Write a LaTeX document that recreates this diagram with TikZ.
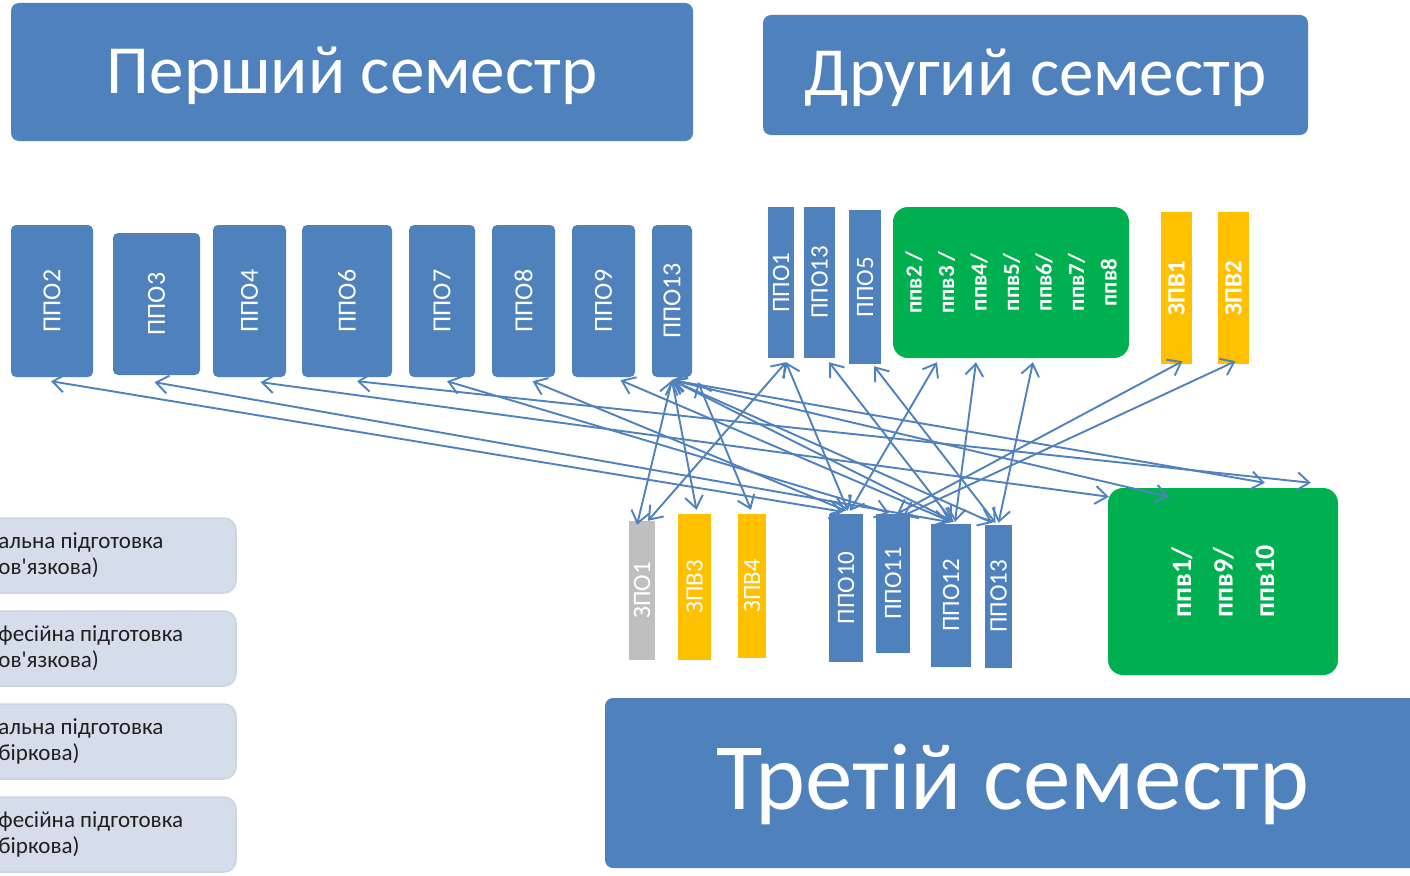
\documentclass[tikz,border=0pt]{standalone}
\usepackage{fontspec}
\setmainfont{Carlito}
\usetikzlibrary{arrows.meta,calc}
\definecolor{blu}{HTML}{4F81BD}
\definecolor{grn}{HTML}{00B050}
\definecolor{ylw}{HTML}{FFC000}
\definecolor{gry}{HTML}{BFBFBF}
\definecolor{lgfill}{HTML}{D5DCEA}
\definecolor{lgline}{HTML}{CBD3E4}
\definecolor{lgtext}{HTML}{1F1F1F}
\begin{document}
\begin{tikzpicture}[x=1pt,y=-1pt,
  titlebox/.style={fill=blu, rounded corners=8pt, text=white, inner sep=0pt, text depth=0pt},
  rbar/.style={fill=blu, rounded corners=5pt, inner sep=0pt, text=white, font=\fontsize{26}{30}\selectfont},
  sbar/.style={fill=blu, inner sep=0pt, text=white, font=\fontsize{25}{30}\selectfont},
  ybar/.style={sbar, fill=ylw},
  gbar/.style={sbar, fill=gry},
  gbox/.style={fill=grn, rounded corners=15pt, inner sep=0pt},
  legendbox/.style={fill=lgfill, draw=lgline, line width=1.5pt, rounded corners=12pt, inner sep=0pt, minimum width=266pt, minimum height=75pt},
  lgtxt/.style={anchor=west, align=left, text=lgtext, inner sep=0pt, font=\fontsize{23}{26}\selectfont},
  conn/.style={draw=blu, line width=1.9pt, {Straight Barb[length=12pt,width=18pt]}-{Straight Barb[length=12pt,width=18pt]}}
]
\useasboundingbox (0,0) rectangle (1410,875);

% titles
\node[titlebox, minimum width=682pt, minimum height=138pt, text height=42pt, font=\fontsize{69}{75}\selectfont] (h1) at (352,72) {Перший семестр};
\node[titlebox, minimum width=545pt, minimum height=120pt, text height=40pt, font=\fontsize{69}{75}\selectfont] (h2) at (1035.5,75) {Другий семестр};
\node[titlebox, minimum width=815pt, minimum height=170pt, text height=53pt, font=\fontsize{95}{100}\selectfont] (h3) at (1012.5,783) {Третій семестр};

% first semester
\node[rbar, minimum width=82pt, minimum height=152pt] (t2) at (52,301) {\rotatebox{90}{ППО2}};
\node[rbar, minimum width=87pt, minimum height=142pt] (t3) at (156.5,304) {\rotatebox{90}{ППО3}};
\node[rbar, minimum width=73pt, minimum height=152pt] (t4) at (249.5,301) {\rotatebox{90}{ППО4}};
\node[rbar, minimum width=90pt, minimum height=152pt] (t6) at (347,301) {\rotatebox{90}{ППО6}};
\node[rbar, minimum width=66pt, minimum height=152pt] (t7) at (442,301) {\rotatebox{90}{ППО7}};
\node[rbar, minimum width=63pt, minimum height=152pt] (t8) at (523.5,301) {\rotatebox{90}{ППО8}};
\node[rbar, minimum width=63pt, minimum height=152pt] (t9) at (603.5,301) {\rotatebox{90}{ППО9}};
\node[rbar, minimum width=40pt, minimum height=152pt] (t13) at (672,301) {\rotatebox{90}{ППО13}};

% second semester
\node[sbar, minimum width=26pt, minimum height=151pt] (s1) at (781,282.5) {\rotatebox{90}{ППО1}};
\node[sbar, minimum width=31pt, minimum height=151pt] (s13) at (819.5,282.5) {\rotatebox{90}{ППО13}};
\node[sbar, minimum width=32pt, minimum height=154pt] (s5) at (865,287) {\rotatebox{90}{ППО5}};
\node[gbox, minimum width=236pt, minimum height=151pt] (sg) at (1011,282.5) {};
\node[rotate=90, align=center, text=white, inner sep=0pt, font=\bfseries\fontsize{23}{32.5}\selectfont] (sgt) at (sg.center) {ппв2 /\\ппв3 /\\ппв4/\\ппв5/\\ппв6/\\ппв7/\\ппв8};
\node[ybar, minimum width=31pt, minimum height=152pt, font=\bfseries\fontsize{25}{30}\selectfont] (sz1) at (1176.5,288) {\rotatebox{90}{ЗПВ1}};
\node[ybar, minimum width=31pt, minimum height=152pt, font=\bfseries\fontsize{25}{30}\selectfont] (sz2) at (1233.5,288) {\rotatebox{90}{ЗПВ2}};

% third semester
\node[gbar, minimum width=26pt, minimum height=139pt] (b1) at (642,590.5) {\rotatebox{90}{ЗПО1}};
\node[ybar, minimum width=33pt, minimum height=146pt] (b3) at (694.5,587) {\rotatebox{90}{ЗПВ3}};
\node[ybar, minimum width=28pt, minimum height=144pt] (b4) at (752,586) {\rotatebox{90}{ЗПВ4}};
\node[sbar, minimum width=34pt, minimum height=148pt] (b10) at (846,588) {\rotatebox{90}{ППО10}};
\node[sbar, minimum width=34pt, minimum height=139pt] (b11) at (893,583.5) {\rotatebox{90}{ППО11}};
\node[sbar, minimum width=40pt, minimum height=143pt] (b12) at (951,595.5) {\rotatebox{90}{ППО12}};
\node[sbar, minimum width=27pt, minimum height=143pt] (b13) at (998.5,596.5) {\rotatebox{90}{ППО13}};
\node[gbox, minimum width=230pt, minimum height=187pt] (bg) at (1223,581.5) {};
\node[rotate=90, align=left, text=white, inner sep=0pt, font=\bfseries\fontsize{28}{41.5}\selectfont] (bgt) at (bg.center) {ппв1/\\ппв9/\\ппв10};

% legend
\node[legendbox] (l1) at (103,555.5) {};
\node[legendbox] (l2) at (103,648.5) {};
\node[legendbox] (l3) at (103,741.5) {};
\node[legendbox] (l4) at (103,834.5) {};
\node[lgtxt] (l1t) at ($(l1.west)+(29,0)$) {альна підготовка\\ов\textquotesingle язкова)};
\node[lgtxt] (l2t) at ($(l2.west)+(29,0)$) {фесійна підготовка\\ов\textquotesingle язкова)};
\node[lgtxt] (l3t) at ($(l3.west)+(29,0)$) {альна підготовка\\біркова)};
\node[lgtxt] (l4t) at ($(l4.west)+(29,0)$) {фесійна підготовка\\біркова)};

% connectors
\draw[conn] ($(t2.south)+(-1,4)$) -- ($(b10.north)+(-3,-2)$);
\draw[conn] ($(t3.south)+(-2,7)$) -- ($(b12.north)+(-3,-2)$);
\draw[conn] ($(t4.south)+(11,5)$) -- ($(bg.north west)+(1,9)$);
\draw[conn] ($(t6.south)+(10,4)$) -- ($(bg.north west)+(203,-5)$);
\draw[conn] ($(t7.south)+(5,4)$) -- ($(b11.north)+(-4,-1)$);
\draw[conn] ($(t8.south)+(9,4)$) -- ($(b10.north)+(0,-3)$);
\draw[conn] ($(t9.south)+(17,3)$) -- ($(b12.north)+(0,-2)$);
\draw[conn] ($(t13.south)+(0,3)$) -- ($(b1.north)+(-5,4)$);
\draw[conn] ($(t13.south)+(0,3)$) -- ($(b3.north)+(2,-4)$);
\draw[conn] ($(t13.south)+(0,3)$) -- ($(bg.north west)+(61,9)$);
\draw[conn] ($(t13.south)+(0,3)$) -- ($(bg.north west)+(157,-5)$);
\draw[conn] ($(t13.south)+(0,3)$) -- ($(b13.north)+(-6,-2)$);
\draw[conn] ($(t13.south)+(0,3)$) -- ($(b12.north)+(3,-2)$);
\draw[conn] ($(t13.south)+(26,5)$) -- ($(b4.north)+(-1,-4)$);
\draw[conn] ($(s1.south)+(5,4)$) -- ($(b1.north)+(6,0)$);
\draw[conn] ($(s1.south)+(5,4)$) -- ($(b10.north)+(2,-3)$);
\draw[conn] ($(s13.south)+(9.5,4)$) -- ($(b12.north)+(1,-3)$);
\draw[conn] ($(s5.south)+(9,2)$) -- ($(b13.north)+(-3,-2)$);
\draw[conn] ($(sg.south)+(-74,4)$) -- ($(b10.north)+(4,-3)$);
\draw[conn] ($(sg.south)+(-35,4)$) -- ($(b12.north)+(4,-2)$);
\draw[conn] ($(sg.south)+(22,4)$) -- ($(b13.north)+(0,-2)$);
\draw[conn] ($(sz1.south)+(6,-3)$) -- ($(b11.north)+(4,0)$);
\draw[conn] ($(sz2.south)+(2,-3)$) -- ($(b11.north)+(10,2)$);
\end{tikzpicture}
\end{document}
